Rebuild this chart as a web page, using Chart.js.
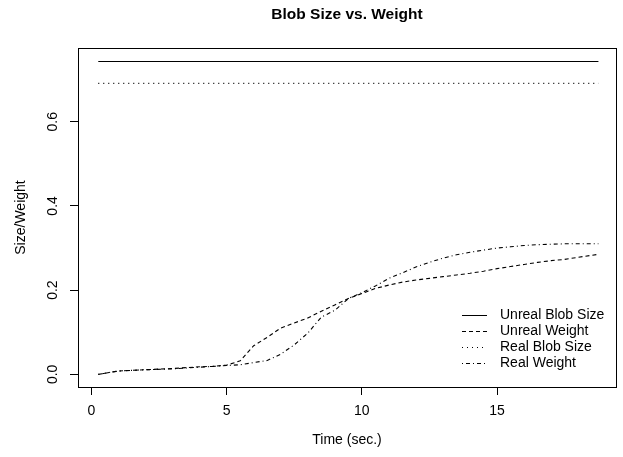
<!DOCTYPE html>
<html>
<head>
<meta charset="utf-8">
<script src="https://cdn.jsdelivr.net/npm/chart.js@4/dist/chart.umd.min.js"></script>
<style>
  body { margin: 0; background: #fff; }
  canvas { display: block; }
</style>
</head>
<body>
<canvas id="blobChart" width="623" height="457"></canvas>
<script>
// time samples (sec.)
var times = [0.25, 1, 2, 3, 4, 4.5, 5, 5.5, 6, 6.5, 7, 7.5, 8, 8.5, 9, 9.5, 10, 10.5,
             11, 11.5, 12, 12.5, 13, 13.5, 14, 14.5, 15, 15.5, 16, 16.5, 17, 17.5, 18, 18.75];
var blobTimes = [0.25, 18.75];

var unrealBlobSize = [0.743, 0.743];
var realBlobSize = [0.691, 0.691];
var unrealWeight = [0, 0.008, 0.011, 0.014, 0.018, 0.019, 0.022, 0.032, 0.068, 0.088, 0.110, 0.122,
                    0.134, 0.150, 0.165, 0.180, 0.192, 0.204, 0.212, 0.219, 0.224, 0.228, 0.232,
                    0.236, 0.240, 0.245, 0.251, 0.256, 0.261, 0.266, 0.270, 0.273, 0.278, 0.285];
var realWeight = [0, 0.008, 0.011, 0.013, 0.017, 0.019, 0.021, 0.023, 0.028, 0.033, 0.048, 0.070,
                  0.098, 0.136, 0.152, 0.180, 0.194, 0.210, 0.228, 0.241, 0.255, 0.266, 0.276,
                  0.284, 0.290, 0.295, 0.300, 0.303, 0.306, 0.308, 0.309, 0.310, 0.310, 0.310];

var xTicks = [0, 5, 10, 15];
var yTicks = [0, 0.2, 0.4, 0.6];

var FONT = '"Liberation Sans", Arial, Helvetica, sans-serif';

function pairs(xs, ys) {
    return ys.map(function (v, i) { return {x: xs[i], y: v}; });
}

function lineSet(label, xs, ys, dash) {
    return {
        label: label,
        data: pairs(xs, ys),
        borderColor: '#000',
        borderWidth: 1.1,
        borderDash: dash,
        pointRadius: 0,
        tension: 0,
        fill: false
    };
}

// box, main title and the R style legend
var rStyle = {
    id: 'rStyle',
    afterDatasetsDraw: function (chart) {
        var ctx = chart.ctx;
        var a = chart.chartArea;
        ctx.save();
        ctx.strokeStyle = '#000';
        ctx.lineWidth = 1;
        ctx.setLineDash([]);
        ctx.strokeRect(Math.round(a.left) + 0.5, Math.round(a.top) + 0.5,
                       Math.round(a.right - a.left), Math.round(a.bottom - a.top));

        ctx.fillStyle = '#000';
        ctx.font = 'bold 15.5px ' + FONT;
        ctx.textAlign = 'center';
        ctx.textBaseline = 'middle';
        ctx.fillText('Blob Size vs. Weight', (a.left + a.right) / 2, 15);

        ctx.font = '14px ' + FONT;
        ctx.textAlign = 'left';
        chart.data.datasets.forEach(function (ds, i) {
            var y = a.bottom - 72 + i * 16;
            ctx.setLineDash(ds.borderDash || []);
            ctx.beginPath();
            ctx.moveTo(a.right - 154, y + 0.5);
            ctx.lineTo(a.right - 129, y + 0.5);
            ctx.stroke();
            ctx.setLineDash([]);
            ctx.fillText(ds.label, a.right - 116, y);
        });
        ctx.restore();
    }
};

new Chart(document.getElementById('blobChart'), {
    type: 'line',
    data: {
        datasets: [
            lineSet('Unreal Blob Size', blobTimes, unrealBlobSize, []),
            lineSet('Unreal Weight', times, unrealWeight, [4, 3]),
            lineSet('Real Blob Size', blobTimes, realBlobSize, [1, 4]),
            lineSet('Real Weight', times, realWeight, [1, 3, 4, 3])
        ]
    },
    options: {
        responsive: false,
        animation: false,
        layout: { padding: { top: 48, right: 7, left: 0, bottom: 0 } },
        plugins: {
            legend: { display: false },
            title: { display: false },
            tooltip: { enabled: false }
        },
        scales: {
            x: {
                type: 'linear',
                min: -0.5,
                max: 19.4,
                afterFit: function (s) { s.height = 70; },
                afterBuildTicks: function (s) { s.ticks = xTicks.map(function (v) { return {value: v}; }); },
                border: { display: false },
                grid: { drawOnChartArea: false, drawTicks: true, tickLength: 8, tickColor: '#000', tickWidth: 1 },
                ticks: {
                    color: '#000',
                    font: { family: FONT, size: 14 },
                    padding: 8,
                    maxRotation: 0,
                    callback: function (v) { return String(v); }
                },
                title: {
                    display: true,
                    text: 'Time (sec.)',
                    color: '#000',
                    font: { family: FONT, size: 14 },
                    padding: { top: 0, bottom: 8 }
                }
            },
            y: {
                type: 'linear',
                min: -0.03,
                max: 0.775,
                afterFit: function (s) { s.width = 78; },
                afterBuildTicks: function (s) { s.ticks = yTicks.map(function (v) { return {value: v}; }); },
                border: { display: false },
                grid: { drawOnChartArea: false, drawTicks: true, tickLength: 8, tickColor: '#000', tickWidth: 1 },
                ticks: {
                    color: '#000',
                    font: { family: FONT, size: 14 },
                    padding: 7,
                    minRotation: 90,
                    maxRotation: 90,
                    crossAlign: 'center',
                    callback: function (v) { return v.toFixed(1); }
                },
                title: {
                    display: true,
                    text: 'Size/Weight',
                    color: '#000',
                    font: { family: FONT, size: 14 },
                    padding: { top: 13, bottom: 0 }
                }
            }
        }
    },
    plugins: [rStyle]
});
</script>
</body>
</html>
